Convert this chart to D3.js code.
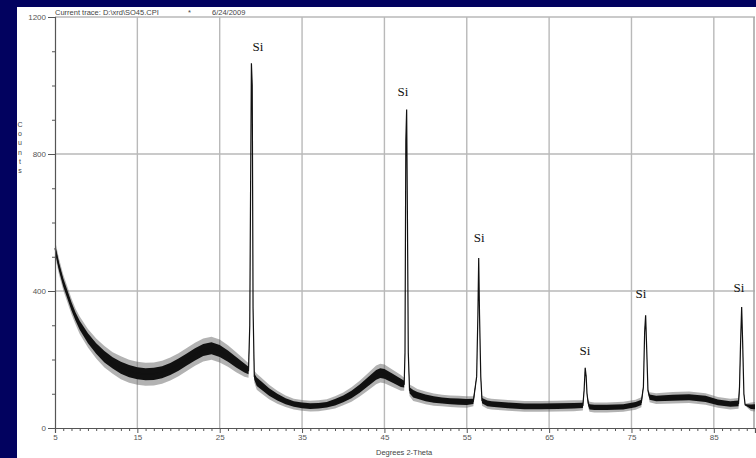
<!DOCTYPE html>
<html><head><meta charset="utf-8">
<script src="https://cdn.jsdelivr.net/npm/d3@7"></script>
<style>html,body{margin:0;padding:0;background:#02025f;overflow:hidden}</style>
</head><body>
<svg id="c" width="756" height="458"></svg>
<script>
// ---- data ----
const twoTheta = [5.0,5.5,6.0,6.5,7.0,7.5,8.0,9.0,10.0,11.0,12.0,13.0,14.0,15.0,16.0,17.0,18.0,19.0,20.0,21.0,22.0,23.0,24.0,25.0,26.0,27.0,28.0,28.5,28.65,28.75,28.85,28.95,29.05,29.2,29.5,30,31,32,33,34,35,36,37,38,39,40,41,42,43,44,44.5,45,46,47,47.4,47.5,47.6,47.7,47.8,47.9,48.05,48.5,49,50,51,52,53,54,55,55.8,56.2,56.35,56.45,56.55,56.7,56.85,57.5,58,60,62,64,66,68,69.1,69.25,69.38,69.5,69.6,69.75,69.9,70.5,72,74,75.5,76.2,76.45,76.6,76.72,76.85,77.0,77.2,78,80,82,84,85.5,87,88.0,88.12,88.25,88.38,88.5,88.65,88.8,89.5,90];
const counts   = [525,470,425,390,355,325,300,262,232,208,190,176,166,160,157,158,163,172,185,200,215,228,233,225,210,192,175,168,300,700,1065,1000,350,150,135,125,105,90,78,70,66,64,65,68,75,85,98,115,135,155,160,158,145,132,128,220,838,930,600,220,110,100,95,88,83,80,78,77,76,78,150,330,496,330,150,80,72,70,66,63,63,64,65,66,110,176,150,100,72,62,60,60,62,68,75,120,280,329,230,110,90,86,88,90,85,75,70,72,120,250,353,250,100,68,62,62];
const spread   = [22,22,22,22,22,22,24,26,28,30,30,32,32,32,32,32,32,32,32,32,32,32,32,32,30,28,24,20,3,3,3,3,3,16,22,22,20,18,16,15,15,15,15,15,17,18,20,22,24,26,26,26,24,22,18,3,3,3,3,3,16,20,18,18,17,16,16,16,16,14,3,3,3,3,3,14,15,15,15,15,15,15,15,14,3,3,3,3,12,14,14,14,14,14,14,3,3,3,3,3,14,15,16,16,16,15,15,15,12,3,3,3,3,3,12,13,13];
const peakLabels = ["Si","Si","Si","Si","Si","Si"];
const labelTheta = [29.65,47.26,56.5,69.36,76.16,88.06];
const labelCounts = [1100,969,543,213,380,397];
const yMajor = [0,400,800,1200];
const xMajor = [5,15,25,35,45,55,65,75,85];

// ---- drawing ----
const svg = d3.select("#c");
svg.append("rect").attr("x",0).attr("y",0).attr("width",756).attr("height",458).attr("fill","#02025f");
svg.append("rect").attr("x",17).attr("y",7).attr("width",739).attr("height",451).attr("fill","#ffffff");

const x = d3.scaleLinear().domain([5,90]).range([55,755]);
const y = d3.scaleLinear().domain([0,1200]).range([428,17]);

// grid
const g = svg.append("g");
g.selectAll("line.vg").data(xMajor.slice(1)).enter().append("line")
  .attr("x1",d=>x(d)).attr("x2",d=>x(d)).attr("y1",y(1200)).attr("y2",y(0))
  .attr("stroke","#b9b9b9").attr("stroke-width",1.4);
g.selectAll("line.hg").data(yMajor.slice(1)).enter().append("line")
  .attr("x1",x(5)).attr("x2",x(90)).attr("y1",d=>y(d)).attr("y2",d=>y(d))
  .attr("stroke","#b9b9b9").attr("stroke-width",1.4);
g.append("line").attr("x1",x(90)-1).attr("x2",x(90)-1).attr("y1",y(1200)).attr("y2",y(0))
  .attr("stroke","#a8a8a8").attr("stroke-width",1.6);

// trace
const pts = twoTheta.map((t,i)=>({t, c:counts[i], s:spread[i]}));
const outer = d3.area().x(d=>x(d.t)).y0(d=>y(Math.max(0,d.c-d.s*1.05))).y1(d=>y(d.c+d.s*1.05));
const inner = d3.area().x(d=>x(d.t)).y0(d=>y(Math.max(0,d.c-d.s*0.55))).y1(d=>y(d.c+d.s*0.55));
svg.append("path").datum(pts).attr("d",outer).attr("fill","#666").attr("opacity",0.5);
svg.append("path").datum(pts).attr("d",inner).attr("fill","#111");
svg.append("path").datum(pts).attr("d",d3.line().x(d=>x(d.t)).y(d=>y(d.c)))
  .attr("fill","none").attr("stroke","#111").attr("stroke-width",1.2);

// axes
const axisColor = "#555";
const yAx = svg.append("g").attr("transform",`translate(${x(5)},0)`)
  .call(d3.axisLeft(y).tickValues(yMajor).tickSize(7).tickPadding(2).tickFormat(d3.format("d")));
const yMin = svg.append("g").attr("transform",`translate(${x(5)},0)`)
  .call(d3.axisLeft(y).tickValues(d3.range(100,1200,100).filter(v=>v%400)).tickSize(3).tickFormat(""));
const xAx = svg.append("g").attr("transform",`translate(0,${y(0)})`)
  .call(d3.axisBottom(x).tickValues(xMajor).tickSize(5).tickPadding(1).tickFormat(d3.format("d")));
const xMin = svg.append("g").attr("transform",`translate(0,${y(0)})`)
  .call(d3.axisBottom(x).tickValues(d3.range(6,91,1).filter(v=>(v-5)%10)).tickSize(3).tickFormat(""));
[yAx,yMin,xAx,xMin].forEach(a=>{
  a.selectAll("path.domain").attr("stroke",axisColor).attr("stroke-width",1.2);
  a.selectAll("line").attr("stroke",axisColor);
  a.selectAll("text").attr("fill","#555").attr("font-family","Liberation Sans, Arial, sans-serif").attr("font-size",8);
});
xMin.select("path.domain").remove(); yMin.select("path.domain").remove();

// labels
const sans = "Liberation Sans, Arial, sans-serif";
svg.append("text").attr("x",55).attr("y",15).attr("font-family",sans).attr("font-size",7.5).attr("fill","#444")
  .text("Current trace: D:\\xrd\\SO45.CPI");
svg.append("text").attr("x",188).attr("y",15).attr("font-family",sans).attr("font-size",7.5).attr("fill","#444").text("*");
svg.append("text").attr("x",212).attr("y",15).attr("font-family",sans).attr("font-size",7.5).attr("fill","#444").text("6/24/2009");
svg.append("text").attr("x",376).attr("y",455).attr("font-family",sans).attr("font-size",7.5).attr("fill","#444").text("Degrees 2-Theta");
const cl = svg.append("text").attr("font-family",sans).attr("font-size",7).attr("fill","#444").attr("text-anchor","middle");
"Counts".split("").forEach((ch,i)=>cl.append("tspan").attr("x",20).attr("y",127+i*9.2).text(ch));

svg.selectAll("text.si").data(peakLabels).enter().append("text")
  .attr("x",(d,i)=>x(labelTheta[i])).attr("y",(d,i)=>y(labelCounts[i]))
  .attr("text-anchor","middle").attr("font-family","Liberation Serif, Times New Roman, serif")
  .attr("font-size",13).attr("fill","#111").text(d=>d);
</script>
</body></html>
